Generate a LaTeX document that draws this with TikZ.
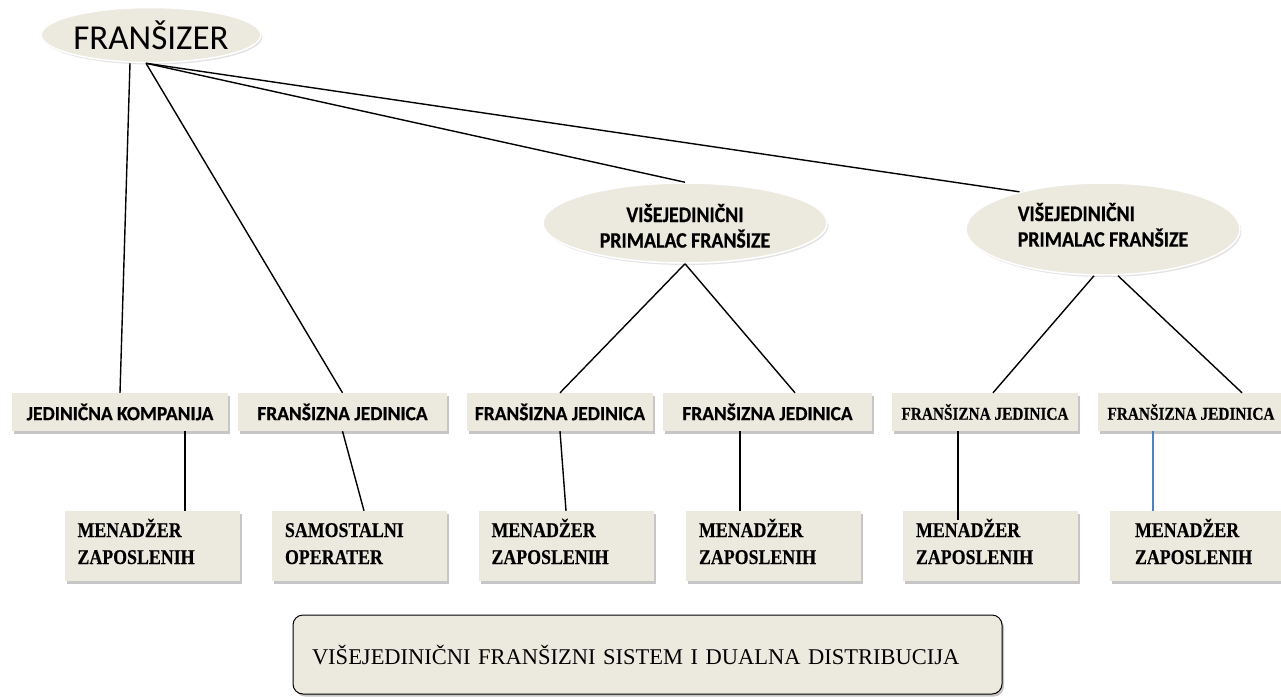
\documentclass[tikz,border=0pt]{standalone}
\usepackage{fontspec}
\setmainfont{Liberation Serif}
\newfontfamily\calfont{Carlito}
\newfontfamily\calhv[FakeStretch=0.9,FakeBold=0.6]{Carlito}
\newfontfamily\calrow[FakeStretch=0.97,FakeBold=0.6]{Carlito}
\newfontfamily\tnrc[FakeStretch=0.85,FakeBold=0.4]{Liberation Serif}
\usetikzlibrary{shapes.geometric,shadows}
\definecolor{beige}{RGB}{236,233,223}
\definecolor{lineblue}{RGB}{79,129,189}
\newcommand{\twoline}[3][l]{\begin{tabular}[t]{@{}#1@{}}#2\\#3\end{tabular}}
\begin{document}
\begin{tikzpicture}[x=1pt,y=-1pt,
  conn/.style={line width=1.4pt, draw=black},
  oval/.style={ellipse, fill=beige, draw=white, line width=1.5pt, inner sep=0pt,
    drop shadow={shadow xshift=1.5pt, shadow yshift=-2pt, opacity=0.22}},
  topbox/.style={rectangle, fill=beige, inner sep=0pt, minimum height=38pt,
    drop shadow={shadow xshift=2pt, shadow yshift=-2.5pt, opacity=0.45},
    font=\calrow\bfseries\fontsize{20}{24}\selectfont},
  topboxt/.style={topbox, font=\tnrc\bfseries\fontsize{18}{22}\selectfont},
  lowbox/.style={rectangle, fill=beige, inner ysep=0pt, inner xsep=13pt, minimum height=70pt,
    text width=149pt, align=left, text height=14pt, text depth=32pt,
    drop shadow={shadow xshift=2pt, shadow yshift=-2.5pt, opacity=0.45},
    font=\tnrc\bfseries\fontsize{21}{27}\selectfont},
  ovaltext/.style={font=\calhv\bfseries\fontsize{22}{25}\selectfont, text height=14pt},
  sysbox/.style={rectangle, rounded corners=10pt, draw=black, line width=1pt, fill=beige,
    minimum height=79pt, inner ysep=0pt, inner xsep=19pt, text width=671pt, align=left,
    drop shadow={shadow xshift=2pt, shadow yshift=-2.5pt, opacity=0.45},
    font=\fontsize{22.5}{26}\selectfont}
]
\useasboundingbox (0,0) rectangle (1281,696);

% ellipses
\node[oval, minimum width=214pt, minimum height=55pt, font=\calfont\fontsize{35}{38}\selectfont] (fz) at (151,35) {FRANŠIZER};
\node[oval, ovaltext, text depth=16pt, minimum width=284pt, minimum height=80pt] (v1) at (685,223) {\twoline[c]{VIŠEJEDINIČNI}{PRIMALAC FRANŠIZE}};
\node[oval, ovaltext, text depth=30pt, minimum width=274pt, minimum height=92pt] (v2) at (1103,229) {\twoline{VIŠEJEDINIČNI}{PRIMALAC FRANŠIZE}};

% row 1
\node[topbox, minimum width=216pt] (jk) at (120,412) {JEDINIČNA KOMPANIJA};
\node[topbox, minimum width=209pt] (fj1) at (342.5,412) {FRANŠIZNA JEDINICA};
\node[topbox, minimum width=186pt] (fj2) at (560,412) {FRANŠIZNA JEDINICA};
\node[topbox, minimum width=209pt] (fj3) at (767.5,412) {FRANŠIZNA JEDINICA};
\node[topboxt, minimum width=186pt] (fj4) at (985,412) {FRANŠIZNA JEDINICA};
\node[topboxt, minimum width=186pt] (fj5) at (1191,412) {FRANŠIZNA JEDINICA};

% row 2
\node[lowbox] (m1) at (152,546) {\twoline{MENADŽER}{ZAPOSLENIH}};
\node[lowbox] (so) at (359.5,546) {\twoline{SAMOSTALNI}{OPERATER}};
\node[lowbox] (m2) at (566,546) {\twoline{MENADŽER}{ZAPOSLENIH}};
\node[lowbox] (m3) at (773.5,546) {\twoline{MENADŽER}{ZAPOSLENIH}};
\node[lowbox] (m4) at (990.5,546) {\twoline{MENADŽER}{ZAPOSLENIH}};
\node[lowbox, inner xsep=25pt, text width=125pt] (m5) at (1197.5,546) {\twoline{MENADŽER}{ZAPOSLENIH}};

% bottom
\node[sysbox] (sys) at (647.5,654.5) {VIŠEJEDINIČNI FRANŠIZNI SISTEM I DUALNA DISTRIBUCIJA};

% connectors
\draw[conn] ([xshift=-21pt]fz.south) -- (jk.north);
\draw[conn] ([xshift=-5pt]fz.south) -- (fj1.north);
\draw[conn] ([xshift=-5pt]fz.south) -- (v1.north);
\draw[conn] ([xshift=-5pt]fz.south) -- (v2.156);
\draw[conn] (v1.south) -- (fj2.north);
\draw[conn] (v1.south) -- ([xshift=27.5pt]fj3.north);
\draw[conn] ([xshift=-9pt]v2.south) -- ([xshift=8pt]fj4.north);
\draw[conn] ([xshift=15pt]v2.south) -- ([xshift=51pt]fj5.north);
\draw[conn] ([xshift=65pt]jk.south) -- ([xshift=33pt]m1.north);
\draw[conn] (fj1.south) -- ([xshift=4.5pt]so.north);
\draw[conn] (fj2.south) -- (m2.north);
\draw[conn] ([xshift=-27.5pt]fj3.south) -- ([xshift=-33.5pt]m3.north);
\draw[conn] ([xshift=-27pt]fj4.south) -- ([xshift=-32.5pt,yshift=-9pt]m4.north);
\draw[conn, draw=lineblue, line width=1.2pt] ([xshift=-38pt]fj5.south) -- ([xshift=-44.5pt]m5.north);
\end{tikzpicture}
\end{document}
